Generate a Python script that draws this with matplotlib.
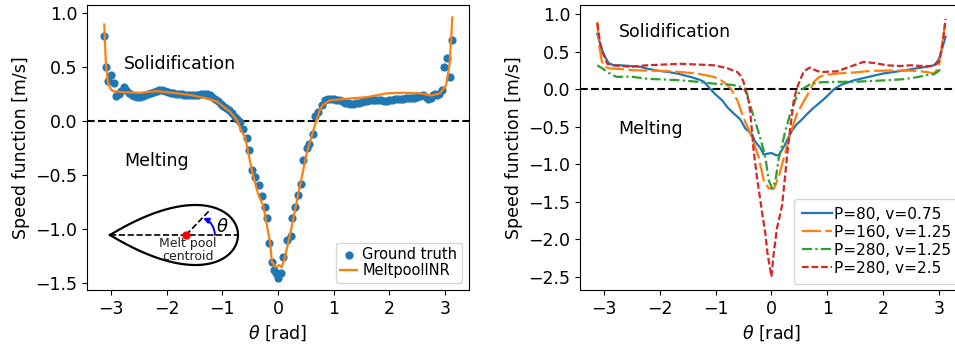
import matplotlib
matplotlib.use("Agg")
import matplotlib.pyplot as plt
import numpy as np

# --- Left panel: ground truth samples vs MeltpoolINR ---
gt_theta = [-3.12, -3.09, -3.05, -3.00, -2.95, -2.91, -2.86, -2.82, -2.77, -2.73,
            -2.68, -2.63, -2.58, -2.53, -2.48, -2.43, -2.38, -2.33, -2.28, -2.23,
            -2.18, -2.13, -2.08, -2.03, -1.98, -1.93, -1.88, -1.83, -1.78, -1.73,
            -1.68, -1.63, -1.58, -1.53, -1.48, -1.43, -1.38, -1.33, -1.28, -1.23,
            -1.18, -1.13, -1.08, -1.03, -0.98, -0.93, -0.88, -0.83, -0.78, -0.73,
            -0.68, -0.62, -0.565, -0.515, -0.47, -0.41, -0.35, -0.29, -0.23, -0.19,
            -0.155, -0.11, -0.065, -0.03, -0.005, 0.05, 0.095, 0.17, 0.23, 0.26,
            0.31, 0.365, 0.41, 0.455, 0.515, 0.56, 0.62, 0.67, 0.72, 0.785,
            0.85, 0.90, 0.95, 1.00, 1.05, 1.10, 1.15, 1.20, 1.25, 1.30,
            1.35, 1.40, 1.45, 1.50, 1.55, 1.60, 1.65, 1.70, 1.75, 1.80,
            1.85, 1.90, 1.95, 2.00, 2.05, 2.10, 2.15, 2.20, 2.25, 2.30,
            2.35, 2.40, 2.45, 2.50, 2.55, 2.60, 2.65, 2.70, 2.74, 2.78,
            2.82, 2.86, 2.90, 2.95, 2.99, 3.03, 3.08, 3.13]
gt_speed = [0.78, 0.50, 0.37, 0.42, 0.35, 0.23, 0.25, 0.28, 0.31, 0.29,
            0.26, 0.24, 0.23, 0.22, 0.22, 0.23, 0.24, 0.25, 0.26, 0.27,
            0.28, 0.285, 0.285, 0.28, 0.27, 0.26, 0.255, 0.25, 0.25, 0.245,
            0.24, 0.24, 0.24, 0.235, 0.235, 0.24, 0.245, 0.25, 0.25, 0.24,
            0.22, 0.20, 0.18, 0.16, 0.14, 0.12, 0.10, 0.07, 0.04, 0.02,
            -0.01, -0.07, -0.16, -0.27, -0.45, -0.52, -0.59, -0.69, -0.79, -0.90,
            -1.13, -1.30, -1.38, -1.40, -1.445, -1.40, -1.26, -1.10, -1.06, -0.90,
            -0.79, -0.685, -0.58, -0.36, -0.25, -0.21, -0.12, 0.05, 0.08, 0.145,
            0.19, 0.20, 0.20, 0.20, 0.195, 0.19, 0.18, 0.17, 0.165, 0.16,
            0.16, 0.165, 0.17, 0.175, 0.18, 0.185, 0.19, 0.19, 0.19, 0.19,
            0.19, 0.185, 0.185, 0.19, 0.195, 0.20, 0.20, 0.20, 0.205, 0.21,
            0.21, 0.215, 0.215, 0.22, 0.23, 0.235, 0.22, 0.20, 0.21, 0.24,
            0.245, 0.235, 0.25, 0.29, 0.50, 0.585, 0.41, 0.75]

inr_theta = [-3.12, -3.09, -3.05, -3.00, -2.96, -2.78, -2.48, -2.18, -1.90, -1.58,
             -1.30, -1.10, -0.95, -0.86, -0.74, -0.65, -0.59, -0.52, -0.45, -0.36,
             -0.26, -0.14, -0.11, -0.036, 0.024, 0.066, 0.126, 0.245, 0.365, 0.515,
             0.635, 0.75, 0.81, 0.93, 1.35, 1.60, 1.95, 2.25, 2.55, 2.76,
             2.91, 3.02, 3.08, 3.11, 3.13]
inr_speed = [0.89, 0.52, 0.35, 0.29, 0.275, 0.265, 0.26, 0.275, 0.26, 0.24,
             0.21, 0.18, 0.12, 0.085, 0.01, -0.10, -0.15, -0.33, -0.50, -0.67,
             -0.79, -1.13, -1.30, -1.35, -1.33, -1.35, -1.255, -0.98, -0.67, -0.30,
             -0.085, 0.10, 0.15, 0.19, 0.21, 0.22, 0.255, 0.26, 0.255, 0.235,
             0.255, 0.33, 0.52, 0.76, 0.955]

# --- Right panel: four process parameter sets ---
p80_theta = [-3.12, -3.06, -3.00, -2.92, -2.83, -2.71, -2.53, -2.35, -2.20, -2.05,
             -1.85, -1.69, -1.45, -1.30, -1.21, -1.09, -1.00, -0.88, -0.79, -0.68,
             -0.56, -0.47, -0.35, -0.29, -0.20, -0.14, -0.08, 0.00, 0.08, 0.13,
             0.22, 0.30, 0.37, 0.45, 0.55, 0.64, 0.75, 0.88, 1.00, 1.12,
             1.25, 1.48, 1.77, 2.00, 2.37, 2.60, 2.79, 2.91, 2.97, 3.03,
             3.06, 3.12]
p80_speed = [0.74, 0.58, 0.46, 0.35, 0.32, 0.32, 0.31, 0.30, 0.27, 0.25,
             0.23, 0.21, 0.165, 0.13, 0.10, 0.0, -0.07, -0.15, -0.24, -0.32,
             -0.40, -0.52, -0.60, -0.70, -0.78, -0.87, -0.86, -0.85, -0.88, -0.88,
             -0.77, -0.65, -0.55, -0.47, -0.40, -0.33, -0.25, -0.17, -0.09, 0.0,
             0.06, 0.12, 0.17, 0.21, 0.25, 0.28, 0.30, 0.32, 0.365, 0.45,
             0.55, 0.70]

p160_theta = [-3.12, -3.08, -3.04, -3.00, -2.92, -2.71, -2.50, -2.23, -1.93, -1.63,
              -1.33, -1.03, -0.90, -0.79, -0.72, -0.61, -0.50, -0.38, -0.30, -0.23,
              -0.14, -0.05, 0.04, 0.13, 0.22, 0.34, 0.46, 0.55, 0.61, 0.70,
              0.76, 0.85, 0.94, 1.18, 1.50, 1.77, 2.10, 2.37, 2.60, 2.79,
              2.91, 2.97, 3.00, 3.06, 3.12]
p160_speed = [0.90, 0.55, 0.38, 0.31, 0.28, 0.27, 0.255, 0.25, 0.245, 0.23,
              0.21, 0.165, 0.12, 0.055, 0.0, -0.15, -0.38, -0.59, -0.75, -0.90,
              -1.21, -1.32, -1.33, -1.17, -0.92, -0.59, -0.32, -0.20, -0.12, 0.0,
              0.10, 0.16, 0.19, 0.21, 0.225, 0.245, 0.25, 0.25, 0.245, 0.23,
              0.21, 0.26, 0.32, 0.59, 0.94]

p280a_theta = [-3.12, -3.03, -2.94, -2.85, -2.77, -2.53, -2.23, -1.93, -1.63, -1.33,
               -1.03, -0.73, -0.60, -0.50, -0.44, -0.38, -0.32, -0.20, -0.11, -0.05,
               0.01, 0.07, 0.13, 0.19, 0.25, 0.34, 0.46, 0.55, 0.70, 0.90,
               1.18, 1.50, 1.77, 2.07, 2.37, 2.60, 2.79, 2.91, 2.97, 3.05]
p280a_speed = [0.32, 0.28, 0.23, 0.19, 0.165, 0.17, 0.14, 0.13, 0.12, 0.10,
               0.075, 0.06, 0.045, 0.01, -0.05, -0.22, -0.36, -0.65, -0.90, -1.21,
               -1.32, -1.23, -0.92, -0.75, -0.55, -0.32, -0.08, 0.0, 0.07, 0.095,
               0.10, 0.10, 0.11, 0.12, 0.135, 0.16, 0.19, 0.20, 0.23, 0.28]

p280b_theta = [-3.12, -3.07, -3.03, -2.94, -2.83, -2.53, -2.23, -1.93, -1.63, -1.33,
               -1.03, -0.90, -0.79, -0.61, -0.55, -0.50, -0.44, -0.41, -0.38, -0.32,
               -0.26, -0.17, -0.11, -0.07, 0.00, 0.04, 0.10, 0.14, 0.19, 0.25,
               0.29, 0.34, 0.40, 0.45, 0.49, 0.58, 0.69, 0.80, 0.88, 1.18,
               1.40, 1.65, 1.85, 2.07, 2.30, 2.49, 2.70, 2.91, 3.00, 3.05,
               3.08, 3.12]
p280b_speed = [0.88, 0.62, 0.50, 0.34, 0.32, 0.30, 0.32, 0.33, 0.34, 0.33,
               0.32, 0.30, 0.28, 0.23, 0.18, 0.10, -0.08, -0.15, -0.30, -0.81,
               -1.17, -1.63, -1.92, -2.19, -2.50, -2.19, -1.85, -1.72, -1.55, -1.12,
               -0.81, -0.50, -0.15, 0.0, 0.08, 0.24, 0.29, 0.25, 0.23, 0.24,
               0.30, 0.365, 0.35, 0.32, 0.31, 0.32, 0.31, 0.31, 0.365, 0.55,
               0.68, 0.94]

series_labels = ['P=80, v=0.75', 'P=160, v=1.25', 'P=280, v=1.25', 'P=280, v=2.5']

plt.rcParams['font.size'] = 12.5

fig = plt.figure(figsize=(9.55, 3.47), dpi=100)
W, H = 955.0, 347.0
ax1 = fig.add_axes([87 / W, 57 / H, 382 / W, 285 / H])
ax2 = fig.add_axes([580 / W, 57 / H, 384 / W, 285 / H])

# left panel
ax1.axhline(0, color='k', ls='--', lw=1.5, zorder=1)
ax1.scatter(gt_theta, gt_speed, s=24, color='#1f77b4', label='Ground truth', zorder=2)
ax1.plot(inr_theta, inr_speed, color='#ff7f0e', lw=1.6, label='MeltpoolINR', zorder=3)
ax1.set_xlim(-3.43, 3.43)
ax1.set_ylim(-1.56, 1.07)
ax1.set_xticks([-3, -2, -1, 0, 1, 2, 3])
ax1.set_yticks([-1.5, -1.0, -0.5, 0.0, 0.5, 1.0])
ax1.set_xlabel(r'$\theta$ [rad]')
ax1.set_ylabel('Speed function [m/s]')
ax1.text(-2.76, 0.53, 'Solidification', va='center')
ax1.text(-2.76, -0.37, 'Melting', va='center')
ax1.legend(loc='lower right', fontsize=10.5, handlelength=1.15, handletextpad=0.35,
           borderpad=0.3, labelspacing=0.1)

# right panel
styles = [dict(color='#1f77b4', ls='-'),
          dict(color='#ff7f0e', ls=(0, (8.5, 2))),
          dict(color='#2ca02c', ls=(0, (4.5, 1.5, 1, 1.5))),
          dict(color='#d62728', ls=(0, (3, 1.3)))]
curves = [(p80_theta, p80_speed), (p160_theta, p160_speed),
          (p280a_theta, p280a_speed), (p280b_theta, p280b_speed)]
ax2.axhline(0, color='k', ls='--', lw=1.5, zorder=1)
for (th, sp), lab, st in zip(curves, series_labels, styles):
    ax2.plot(th, sp, lw=1.6, label=lab, **st)
ax2.set_xlim(-3.43, 3.45)
ax2.set_ylim(-2.677, 1.124)
ax2.set_xticks([-3, -2, -1, 0, 1, 2, 3])
ax2.set_yticks([-2.5, -2.0, -1.5, -1.0, -0.5, 0.0, 0.5, 1.0])
ax2.set_xlabel(r'$\theta$ [rad]')
ax2.set_ylabel('Speed function [m/s]')
ax2.text(-2.74, 0.77, 'Solidification', va='center')
ax2.text(-2.74, -0.53, 'Melting', va='center')
# the legend frame runs past the right edge of the picture, as in the original
ax2.legend(loc='lower left', bbox_to_anchor=(794 / W, (H - 283.5) / H),
           bbox_transform=fig.transFigure, borderaxespad=0,
           fontsize=11.1, handlelength=1.95, handletextpad=0.15,
           borderpad=0.5, labelspacing=0.2)

# --- schematic inset: melt pool outline with centroid and angle ---
ins = fig.add_axes([105 / W, (H - 272) / H, 140 / W, 72 / H])
ins.set_xlim(-81, 59)
ins.set_ylim(-37, 35)
ins.axis('off')
t = np.linspace(0, 2 * np.pi, 300)
ins.plot(-12 - 64 * np.cos(t), 39 * np.sin(t) * np.sin(t / 2), color='k', lw=1.6)
ins.plot([-76, 52], [0, 0], color='k', ls='--', lw=1.2)
ins.plot([0, 23], [0, 24], color='k', ls='--', lw=1.2)
ins.plot([0], [0], 'o', color='red', ms=5, zorder=5)
ins.annotate('', xy=(17, 17), xytext=(29, 0),
             arrowprops=dict(arrowstyle='-|>', color='blue', lw=1.4,
                             connectionstyle='arc3,rad=0.3',
                             shrinkA=0, shrinkB=0, mutation_scale=8))
ins.text(36, 8, r'$\theta$', fontsize=13, ha='center', va='center')
ins.text(2, -15, 'Melt pool\ncentroid', fontsize=9, ha='center', va='center',
         linespacing=0.95, color='#222222')

fig.savefig('out.png', dpi=100)
